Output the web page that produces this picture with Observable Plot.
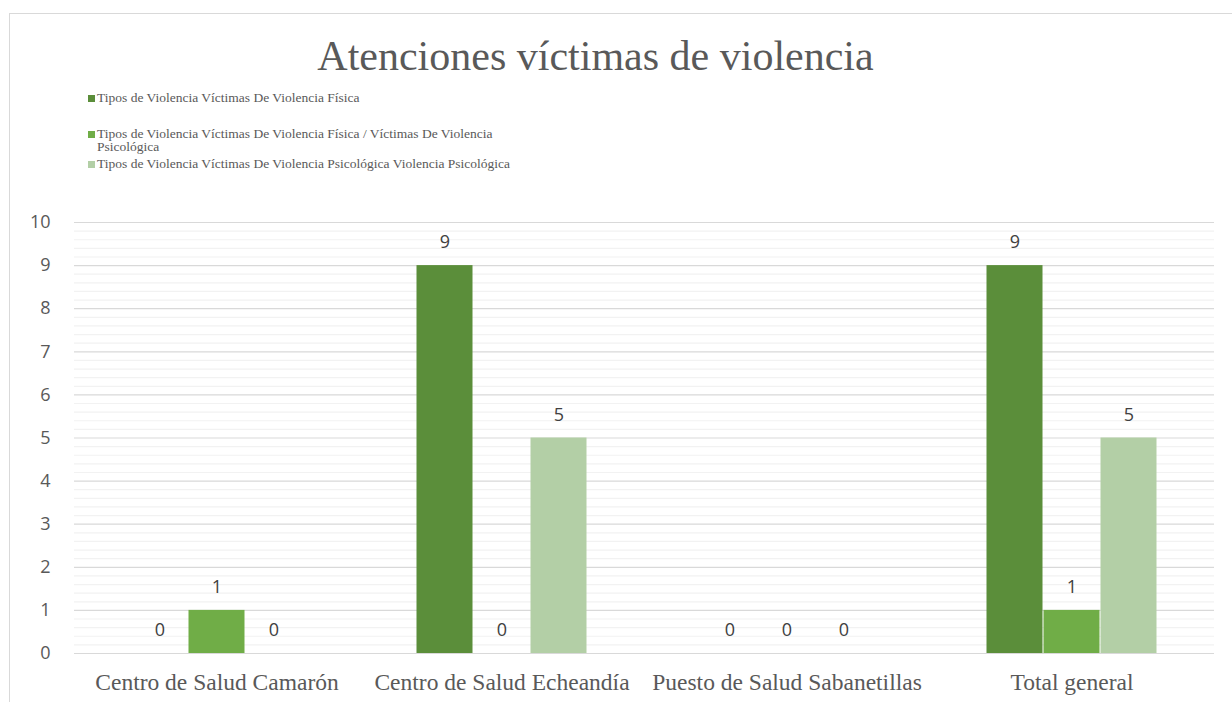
<!DOCTYPE html>
<html><head><meta charset="utf-8">
<script src="https://cdn.jsdelivr.net/npm/d3@7"></script>
<script src="https://cdn.jsdelivr.net/npm/@observablehq/plot@0.6"></script>
<style>
body{margin:0;background:#fff;}
#wrap{position:relative;width:1232px;height:702px;overflow:hidden;background:#fff;}
#frame{position:absolute;left:9px;top:13px;width:1240px;height:720px;border-left:1.5px solid #d9d9d9;border-top:1.5px solid #d9d9d9;}
#title{position:absolute;left:0;width:1191px;top:32px;text-align:center;font-family:"Liberation Serif","Times New Roman",serif;font-size:42px;color:#595959;line-height:48px;}
.leg{position:absolute;left:88px;font-family:"Liberation Serif","Times New Roman",serif;font-size:13.5px;color:#595959;line-height:13px;}
.sw{display:inline-block;width:7px;height:7px;margin-right:2px;vertical-align:0px;}
#chart{position:absolute;left:0;top:200px;}
</style></head><body>
<div id="wrap">
<div id="frame"></div>
<div id="title">Atenciones víctimas de violencia</div>
<div id="legend"></div>
<div id="chart"></div>
</div>
<script>
const categories = ["Centro de Salud Camarón","Centro de Salud Echeandía","Puesto de Salud Sabanetillas","Total general"];
const series = ["Tipos de Violencia Víctimas De Violencia Física","Tipos de Violencia Víctimas De Violencia Física / Víctimas De Violencia Psicológica","Tipos de Violencia Víctimas De Violencia Psicológica Violencia Psicológica"];
const seriesFisica = [0, 9, 0, 9];
const seriesMixta = [1, 0, 0, 1];
const seriesPsico = [0, 5, 0, 5];
const colors = ["#5b8e3a", "#70ad47", "#b3cfa6"];
const yTicks = [0,1,2,3,4,5,6,7,8,9,10];

const data = [];
[seriesFisica, seriesMixta, seriesPsico].forEach((vals, si) => {
  vals.forEach((v, ci) => data.push({cat: categories[ci], ser: series[si], value: v}));
});

// legend
const legTops = [91, 127, 157];
const legLabels = [
  series[0],
  "Tipos de Violencia Víctimas De Violencia Física / Víctimas De Violencia<br><span style='margin-left:9px'>Psicológica</span>",
  series[2]
];
const legend = document.getElementById("legend");
legLabels.forEach((t, i) => {
  const d = document.createElement("div");
  d.className = "leg";
  d.style.top = legTops[i] + "px";
  d.innerHTML = `<span class="sw" style="background:${colors[i]}"></span>` + t;
  legend.appendChild(d);
});

const minor = d3.range(0, 10.001, 0.2).filter(v => Math.abs(v - Math.round(v)) > 1e-6);

const chart = Plot.plot({
  width: 1232,
  height: 502,
  marginLeft: 73,
  marginRight: 17,
  marginTop: 22,
  marginBottom: 49,
  style: {background: "transparent", overflow: "visible"},
  fx: {domain: categories, padding: 0, label: null, axis: null},
  x: {domain: series, paddingInner: 0, paddingOuter: 1, axis: null},
  y: {domain: [0, 10], label: null},
  color: {domain: series, range: colors},
  marks: [
    Plot.ruleY(minor, {stroke: "#f2f2f2", strokeWidth: 1.2, facet: "exclude"}),
    Plot.ruleY(yTicks, {stroke: "#d9d9d9", strokeWidth: 1.2, facet: "exclude"}),
    Plot.axisY({ticks: yTicks, tickSize: 0, tickPadding: 24, label: null, fontSize: 18, fontFamily: "Open Sans, sans-serif", fill: "#595959", tickFormat: d => d}),
    Plot.axisFx({anchor: "bottom", tickSize: 0, tickPadding: 20, label: null, fontSize: 23.5, fontFamily: "Liberation Serif, serif", fill: "#595959"}),
    Plot.barY(data, {fx: "cat", x: "ser", y: "value", fill: "ser", insetLeft: 0.5, insetRight: 0.5}),
    Plot.text(data, {fx: "cat", x: "ser", y: "value", text: d => String(d.value), dy: -23, fontSize: 18, fontFamily: "Open Sans, sans-serif", fill: "#404040"})
  ]
});
document.getElementById("chart").appendChild(chart);
</script>
</body></html>
